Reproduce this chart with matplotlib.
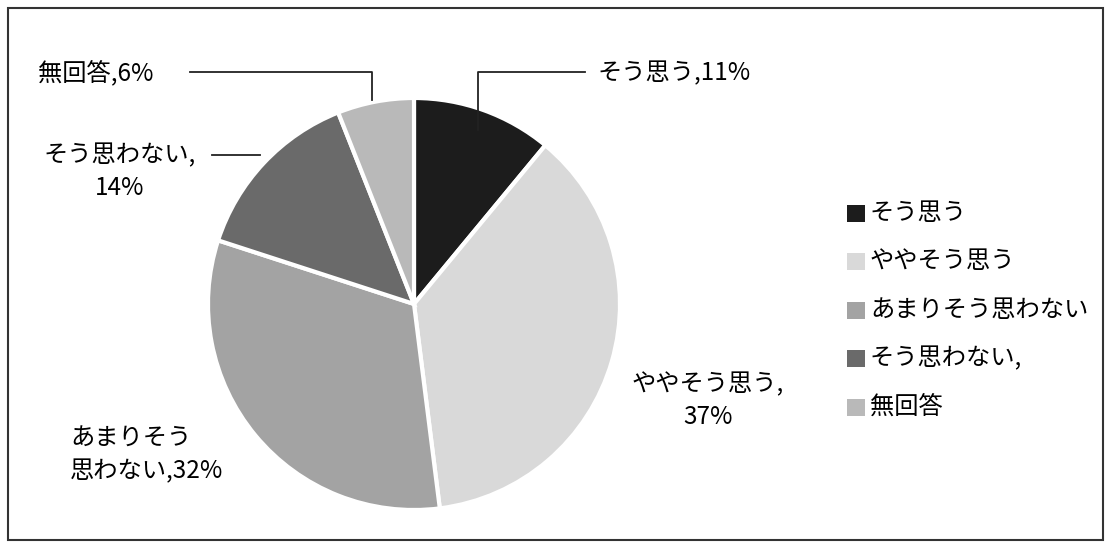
import matplotlib.pyplot as plt
from matplotlib.patches import Rectangle

plt.rcParams['font.family'] = ['Noto Sans CJK JP', 'DejaVu Sans']

labels = ['そう思う', 'ややそう思う', 'あまりそう思わない', 'そう思わない,', '無回答']
values = [11, 37, 32, 14, 6]
colors = ['#1c1c1c', '#d9d9d9', '#a3a3a3', '#6a6a6a', '#b9b9b9']
data_labels = ['そう思う,11%', 'ややそう思う,\n37%', 'あまりそう\n思わない,32%',
               'そう思わない,\n14%', '無回答,6%']

W, H = 1111, 549
fig = plt.figure(figsize=(W / 100, H / 100), dpi=100)
ax = fig.add_axes([0, 0, 1, 1])

# outer frame
ax.add_patch(Rectangle((8, 8), 1095, 532, fill=False, ec='#333333', lw=1.5))

# pie (y axis inverted, so counterclock=True draws clockwise on screen)
wedges, _ = ax.pie(values, colors=colors, startangle=-90, counterclock=True,
                   center=(414, 304), radius=206,
                   wedgeprops=dict(edgecolor='white', linewidth=3),
                   frame=True)
ax.set_xlim(0, W)
ax.set_ylim(H, 0)
ax.set_aspect('equal')
ax.axis('off')

fs = 17.5
ls = 1.33
ax.text(598, 73, data_labels[0], fontsize=fs, ha='left', va='center')
ax.text(708, 401, data_labels[1], fontsize=fs, ha='center', va='center', linespacing=ls)
ax.text(70, 455, data_labels[2], fontsize=fs, ha='left', va='center', linespacing=ls)
ax.text(120, 172, data_labels[3], fontsize=fs, ha='center', va='center', linespacing=ls)
ax.text(38, 73, data_labels[4], fontsize=fs, ha='left', va='center')

# leader lines
ax.plot([478, 478, 585], [130, 72, 72], color='#222222', lw=1.3)
ax.plot([190, 372, 372], [72, 72, 100], color='#222222', lw=1.3)
ax.plot([212, 260], [155, 155], color='#222222', lw=1.3)

# legend, drawn by hand
for i, (lab, col) in enumerate(zip(labels, colors)):
    yc = 213 + 48.5 * i
    ax.add_patch(Rectangle((847, yc - 8.5), 18, 17, fc=col, ec='none'))
    ax.text(870, yc, lab, fontsize=fs, ha='left', va='center')

fig.savefig('out.png', dpi=100)
